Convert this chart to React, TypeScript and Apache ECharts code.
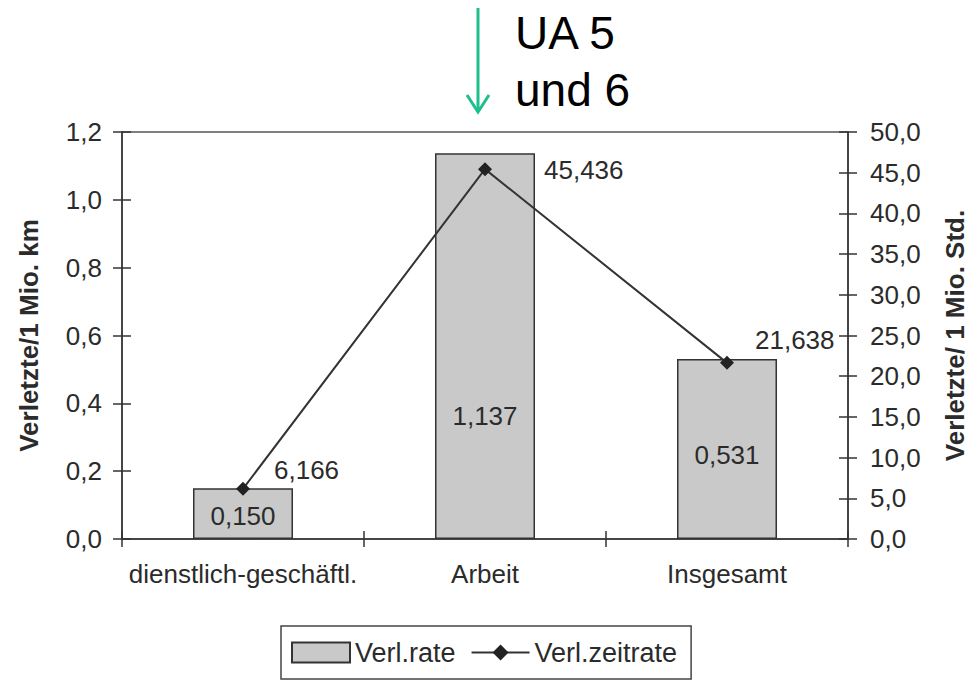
import React, { useEffect, useRef } from "react";
import * as echarts from "echarts";

const categories = ["dienstlich-geschäftl.", "Arbeit", "Insgesamt"];
const seriesNames = ["Verl.rate", "Verl.zeitrate"];
const rateValues = [0.15, 1.137, 0.531];
const timeRateValues = [6.166, 45.436, 21.638];
const leftAxisName = "Verletzte/1 Mio. km";
const rightAxisName = "Verletzte/ 1 Mio. Std.";
const annotationLines = ["UA 5", "und 6"];

// label placement (styles only)
const barLabelOffsets = [[0, 2], [0, 70], [0, 6]];
const lineLabelOffsets = [[19, -19], [47, 1], [16, -23]];

const FONT = "'Liberation Sans', Arial, Helvetica, sans-serif";
const TXT = "#2b2b2b";

const fmt = (v: number, d: number) => v.toFixed(d).replace(".", ",");

export default function App() {
  const ref = useRef<HTMLDivElement>(null);
  useEffect(() => {
    if (!ref.current) return;
    const chart = echarts.init(ref.current, undefined, { renderer: "svg" });
    const grid = { left: 122, right: 117, top: 132, bottom: 142 };
    const leftBase = {
      type: "value" as const,
      min: 0,
      max: 1.2,
      interval: 0.2,
      position: "left" as const,
    };
    const rightBase = {
      type: "value" as const,
      min: 0,
      max: 50,
      interval: 5,
      position: "right" as const,
    };
    const option: any = {
      animation: false,
      backgroundColor: "#ffffff",
      textStyle: { fontFamily: FONT },
      grid: { ...grid, show: true, borderColor: "#555", borderWidth: 1.5, backgroundColor: "transparent" },
      legend: {
        left: 281,
        top: 626,
        orient: "horizontal",
        padding: [13, 14, 13, 10],
        itemWidth: 58,
        itemHeight: 20,
        itemGap: 15,
        borderColor: "#444",
        borderWidth: 1.5,
        textStyle: { fontSize: 27, color: TXT, fontFamily: FONT, padding: [0, 0, 0, 0] },
        data: [{ name: seriesNames[0], icon: "rect" }, { name: seriesNames[1] }],
      },
      xAxis: [
        {
          type: "category",
          data: categories,
          axisLine: { lineStyle: { color: "#333", width: 1.5 } },
          axisTick: { show: true, length: 8, lineStyle: { color: "#333", width: 1.5 } },
          axisLabel: { fontSize: 26, color: TXT, margin: 22, interval: 0, fontFamily: FONT },
          splitLine: { show: false },
        },
        {
          type: "category",
          data: categories,
          position: "bottom",
          axisLine: { show: false },
          axisTick: { show: true, inside: true, length: 8, lineStyle: { color: "#333", width: 1.5 } },
          axisLabel: { show: false },
          splitLine: { show: false },
        },
      ],
      yAxis: [
        {
          ...leftBase,
          name: leftAxisName,
          nameLocation: "middle",
          nameGap: 80,
          nameRotate: 90,
          nameTextStyle: { fontSize: 26, fontWeight: "bold", color: TXT, fontFamily: FONT },
          axisLine: { show: true, lineStyle: { color: "#333", width: 1.5 } },
          axisTick: { show: true, length: 9, lineStyle: { color: "#333", width: 1.5 } },
          axisLabel: { fontSize: 26, color: TXT, margin: 20, formatter: (v: number) => fmt(v, 1), fontFamily: FONT },
          splitLine: { show: false },
        },
        {
          ...rightBase,
          name: rightAxisName,
          nameLocation: "middle",
          nameGap: 94,
          nameRotate: 90,
          nameTextStyle: { fontSize: 26, fontWeight: "bold", color: TXT, fontFamily: FONT },
          axisLine: { show: true, lineStyle: { color: "#333", width: 1.5 } },
          axisTick: { show: true, length: 9, lineStyle: { color: "#333", width: 1.5 } },
          axisLabel: { fontSize: 26, color: TXT, margin: 22, formatter: (v: number) => fmt(v, 1), fontFamily: FONT },
          splitLine: { show: false },
        },
        {
          ...leftBase,
          axisLine: { show: false },
          axisTick: { show: true, inside: true, length: 9, lineStyle: { color: "#333", width: 1.5 } },
          axisLabel: { show: false },
          splitLine: { show: false },
        },
        {
          ...rightBase,
          axisLine: { show: false },
          axisTick: { show: true, inside: true, length: 9, lineStyle: { color: "#333", width: 1.5 } },
          axisLabel: { show: false },
          splitLine: { show: false },
        },
      ],
      series: [
        {
          name: seriesNames[0],
          type: "bar",
          yAxisIndex: 0,
          barWidth: 100,
          itemStyle: { color: "#c9c9c9", borderColor: "#333", borderWidth: 1.5 },
          label: {
            show: true,
            position: "inside",
            fontSize: 26,
            color: TXT,
            fontFamily: FONT,
            formatter: (p: any) => fmt(p.value, 3),
          },
          data: rateValues.map((v, i) => ({ value: v, label: { offset: barLabelOffsets[i] } })),
          z: 2,
        },
        {
          name: seriesNames[1],
          type: "line",
          yAxisIndex: 1,
          symbol: "diamond",
          symbolSize: 14,
          lineStyle: { color: "#333", width: 2 },
          itemStyle: { color: "#222" },
          label: {
            show: true,
            position: "right",
            fontSize: 26,
            color: TXT,
            fontFamily: FONT,
            formatter: (p: any) => fmt(p.value, 3),
          },
          data: timeRateValues.map((v, i) => ({ value: v, label: { offset: lineLabelOffsets[i] } })),
          z: 3,
        },
      ],
      graphic: [
        {
          type: "line",
          shape: { x1: 478, y1: 8, x2: 478, y2: 111 },
          style: { stroke: "#1dbf8c", lineWidth: 3 },
        },
        {
          type: "polyline",
          shape: { points: [[467, 95], [478, 112], [489, 95]] },
          style: { stroke: "#1dbf8c", lineWidth: 3, fill: null },
        },
        {
          type: "text",
          x: 515,
          y: 33,
          style: {
            text: annotationLines[0],
            font: `46px ${FONT}`,
            fill: "#000",
            verticalAlign: "middle",
            align: "left",
          },
        },
        {
          type: "text",
          x: 515,
          y: 90,
          style: {
            text: annotationLines[1],
            font: `46px ${FONT}`,
            fill: "#000",
            verticalAlign: "middle",
            align: "left",
          },
        },
      ],
    };
    chart.setOption(option);
    return () => chart.dispose();
  }, []);
  return (
    <div
      ref={ref}
      style={{ position: "fixed", left: 0, top: 0, width: 976, height: 681, background: "#fff" }}
    />
  );
}
